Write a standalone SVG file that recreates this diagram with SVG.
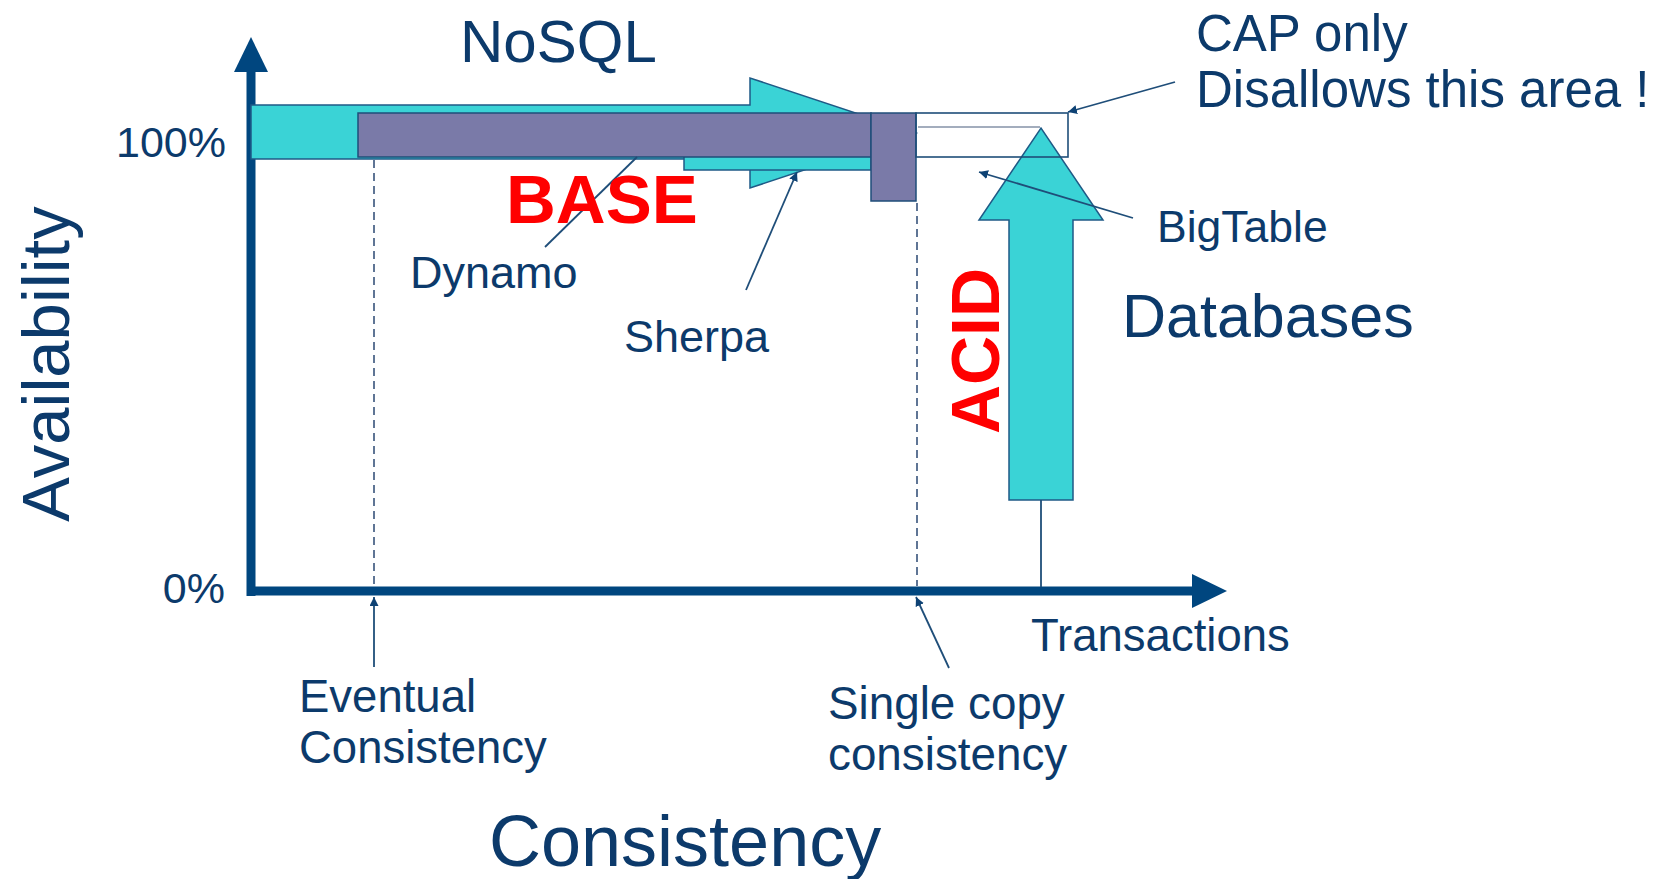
<svg xmlns="http://www.w3.org/2000/svg" width="1667" height="879" viewBox="0 0 1667 879">
<defs>
<marker id="ah" viewBox="0 0 10 10" refX="10" refY="5" markerWidth="9" markerHeight="9" markerUnits="userSpaceOnUse" orient="auto">
<path d="M0,0 L10,5 L0,10 z" fill="#0e4274"/>
</marker>
<style>
.t{font-family:"Liberation Sans",Arial,sans-serif;fill:#0c3a6b}
.red{font-family:"Liberation Sans",Arial,sans-serif;font-weight:bold;fill:#ff0000}
.cyan{fill:#3ad3d6;stroke:#1f5a86;stroke-width:1.5}
.purple{fill:#7a7aa8;stroke:#1f4e79;stroke-width:1.5}
.axis{stroke:#00467f;stroke-width:9;fill:none}
.head{fill:#00467f}
.lead{stroke:#1f4e79;stroke-width:1.8;fill:none}
.dash{stroke:#5f7595;stroke-width:2;stroke-dasharray:8 5;fill:none}
</style>
</defs>
<rect width="1667" height="879" fill="#ffffff"/>

<g id="axes">
<line class="axis" x1="251" y1="596" x2="251" y2="70"/>
<polygon class="head" points="234,72 251,37 268,72"/>
<line class="axis" x1="247" y1="591" x2="1194" y2="591"/>
<polygon class="head" points="1192,574 1227,591 1192,608"/>
</g>

<g id="guides">
<line class="dash" x1="374" y1="160" x2="374" y2="586"/>
<line class="dash" x1="917" y1="203" x2="917" y2="586"/>
</g>

<g id="nosql-arrow">
<polygon class="cyan" points="251,105 750,105 750,78 916,133 750,188 750,159 251,159"/>
</g>
<g id="sherpa-band">
<rect class="cyan" x="684" y="150" width="187" height="20"/>
</g>
<g id="dynamo-bar">
<rect class="purple" x="358" y="113" width="513" height="44"/>
</g>
<g id="bigtable-bar">
<rect class="purple" x="871" y="113" width="45" height="88"/>
</g>
<g id="acid-arrow">
<polygon class="cyan" points="1009,500 1009,220 979,220 1041,128 1103,220 1073,220 1073,500"/>
</g>
<g id="cap-area">
<rect x="916" y="113" width="152" height="44" fill="none" stroke="#1f4e79" stroke-width="1.6"/>
<line x1="918" y1="127" x2="1040" y2="127" stroke="#a3adbd" stroke-width="2"/>
</g>

<g id="connectors">
<line class="lead" x1="1175" y1="82" x2="1068" y2="112" marker-end="url(#ah)"/>
<line class="lead" x1="1133" y1="218" x2="979" y2="172" marker-end="url(#ah)"/>
<line class="lead" x1="746" y1="290" x2="797" y2="172" marker-end="url(#ah)"/>
<line class="lead" x1="545" y1="247" x2="637" y2="157"/>
<line class="lead" x1="374" y1="667" x2="374" y2="597" marker-end="url(#ah)"/>
<line class="lead" x1="949" y1="668" x2="916" y2="597" marker-end="url(#ah)"/>
<line class="lead" x1="1041" y1="500" x2="1041" y2="587"/>
</g>

<g id="labels">
<text class="t" x="460" y="62" font-size="60">NoSQL</text>
<text class="t" x="226" y="157" font-size="43" text-anchor="end">100%</text>
<text class="t" x="225" y="603" font-size="43" text-anchor="end">0%</text>
<text class="t" transform="translate(69,364) rotate(-90)" font-size="67" text-anchor="middle">Availability</text>
<text class="red" x="506" y="223" font-size="69">BASE</text>
<text class="red" transform="translate(999,351) rotate(-90)" font-size="68" text-anchor="middle">ACID</text>
<text class="t" x="410" y="288" font-size="45">Dynamo</text>
<text class="t" x="624" y="352" font-size="45">Sherpa</text>
<text class="t" x="1196" y="51" font-size="51">CAP only</text>
<text class="t" x="1196" y="107" font-size="51">Disallows this area !</text>
<text class="t" x="1157" y="242" font-size="44.5">BigTable</text>
<text class="t" x="1122" y="337" font-size="61">Databases</text>
<text class="t" x="1031" y="651" font-size="45.5">Transactions</text>
<text class="t" x="299" y="712" font-size="45.5">Eventual</text>
<text class="t" x="299" y="763" font-size="45.5">Consistency</text>
<text class="t" x="828" y="719" font-size="45.8">Single copy</text>
<text class="t" x="828" y="770" font-size="45.8">consistency</text>
<text class="t" x="489" y="866" font-size="72">Consistency</text>
</g>
</svg>
